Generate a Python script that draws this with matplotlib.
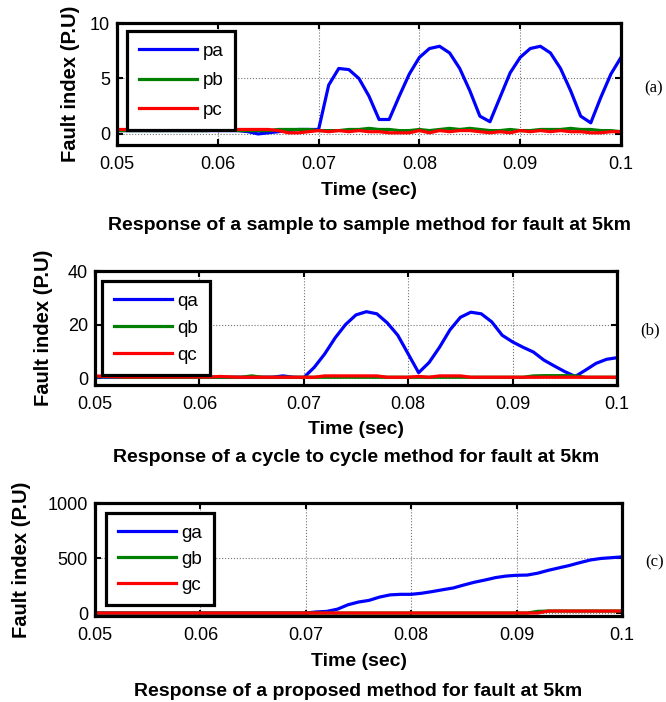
import numpy as np
import matplotlib
matplotlib.use('Agg')
import matplotlib.pyplot as plt

plt.rcParams['font.family'] = ['Liberation Sans', 'DejaVu Sans']

# time base, one sample per ms
t = np.linspace(0.05, 0.1, 51)

pa = [0.3, 0.3, 0.3, 0.3, 0.3, 0.3, 0.3, 0.3, 0.3, 0.3, 0.3, 0.3, 0.3, 0.2, 0.0, 0.1, 0.2, 0.3, 0.4, 0.4,
      0.4, 4.4, 5.9, 5.8, 5.0, 3.4, 1.3, 1.3, 3.4, 5.4, 6.9, 7.7, 7.9, 7.3, 5.9, 3.9, 1.6, 1.1, 3.3, 5.5,
      6.9, 7.7, 7.9, 7.3, 5.9, 3.9, 1.6, 1.0, 3.3, 5.4, 6.9]
pb = [0.3, 0.3, 0.3, 0.3, 0.3, 0.3, 0.3, 0.3, 0.3, 0.3, 0.4, 0.4, 0.3, 0.3, 0.3, 0.3, 0.4, 0.4, 0.4, 0.4,
      0.3, 0.3, 0.3, 0.4, 0.4, 0.5, 0.4, 0.4, 0.3, 0.3, 0.4, 0.3, 0.4, 0.5, 0.4, 0.5, 0.4, 0.3, 0.3, 0.4,
      0.3, 0.3, 0.4, 0.4, 0.4, 0.5, 0.4, 0.4, 0.3, 0.3, 0.2]
pc = [0.4, 0.4, 0.4, 0.4, 0.4, 0.4, 0.4, 0.4, 0.4, 0.4, 0.4, 0.4, 0.4, 0.4, 0.4, 0.4, 0.3, 0.1, 0.1, 0.2,
      0.3, 0.2, 0.3, 0.2, 0.3, 0.2, 0.2, 0.1, 0.1, 0.1, 0.3, 0.1, 0.3, 0.2, 0.3, 0.3, 0.2, 0.1, 0.2, 0.1,
      0.3, 0.2, 0.3, 0.2, 0.3, 0.2, 0.2, 0.1, 0.1, 0.2, 0.2]

qa = [0.3, 0.3, 0.3, 0.3, 0.3, 0.3, 0.3, 0.3, 0.3, 0.3, 0.3, 0.3, 0.3, 0.3, 0.3, 0.3, 0.3, 0.3, 0.8, 0.3,
      0.2, 4.0, 9.0, 15.0, 20.0, 23.6, 24.8, 24.0, 20.6, 16.0, 9.0, 2.0, 5.8, 11.5, 18.0, 22.7, 24.6, 24.0,
      21.0, 16.0, 13.5, 11.5, 9.7, 6.7, 4.5, 2.4, 0.6, 3.0, 5.5, 7.0, 7.6]
qb = [0.5, 0.5, 0.4, 0.3, 0.3, 0.3, 0.3, 0.3, 0.3, 0.3, 0.3, 0.3, 0.3, 0.3, 0.3, 0.8, 0.3, 0.3, 0.3, 0.3,
      0.3, 0.3, 0.3, 0.3, 0.3, 0.3, 0.3, 0.3, 0.3, 0.3, 0.3, 0.3, 0.3, 0.3, 0.3, 0.3, 0.3, 0.3, 0.3, 0.3,
      0.3, 0.3, 0.8, 0.9, 0.9, 0.9, 0.8, 0.3, 0.3, 0.3, 0.3]
qc = [0.8, 0.6, 0.5, 0.4, 0.4, 0.4, 0.4, 0.4, 0.4, 0.4, 0.4, 0.4, 0.6, 0.4, 0.3, 0.3, 0.3, 0.3, 0.3, 0.3,
      0.3, 0.3, 0.8, 0.8, 0.8, 0.8, 0.8, 0.8, 0.3, 0.3, 0.3, 0.6, 0.3, 0.8, 0.8, 0.8, 0.3, 0.3, 0.3, 0.3,
      0.3, 0.3, 0.3, 0.3, 0.3, 0.3, 0.3, 0.3, 0.3, 0.3, 0.3]

ga = [0, 0, 0, 0, 0, 0, 0, 0, 0, 0, 0, 0, 0, 0, 0, 0, 0, 0, 0, 0,
      0, 10, 15, 35, 75, 100, 115, 145, 165, 170, 170, 180, 195, 212, 228, 255, 280, 300, 322, 336,
      343, 345, 362, 388, 410, 432, 458, 482, 496, 503, 510]
gb = [0, 0, 0, 0, 0, 0, 0, 0, 0, 0, 0, 0, 0, 0, 0, 0, 0, 0, 0, 0,
      0, 0, 0, 0, 0, 0, 0, 0, 0, 0, 0, 0, 0, 0, 0, 0, 0, 0, 0, 0,
      0, 0, 15, 18, 18, 18, 18, 18, 18, 18, 18]
gc = [0, 0, 0, 0, 0, 0, 0, 0, 0, 0, 0, 0, 0, 0, 0, 0, 0, 0, 0, 0,
      0, 0, 0, 0, 0, 0, 0, 0, 0, 0, 0, 0, 0, 0, 0, 0, 0, 0, 0, 0,
      0, 0, 0, 18, 18, 18, 18, 18, 18, 18, 18]

xticks  = [0.05, 0.06, 0.07, 0.08, 0.09, 0.1]
xlabels = ['0.05', '0.06', '0.07', '0.08', '0.09', '0.1']

W, H = 666, 702
fig = plt.figure(figsize=(W / 100, H / 100), dpi=100)

def px(l, t_, r, b):
  return [l / W, 1 - b / H, (r - l) / W, (b - t_) / H]

panels = [
  # series, names, ylim, yticks, axes box, legend corner, legend spacing,
  # ylabel x, tag, tag pos, xlabel y, title y, title
  ((pa, pb, pc), ('pa', 'pb', 'pc'), (-1, 10), [0, 5, 10], (117, 23, 621, 145), (127, 31), 0.66,
   70, '(a)', (654, 88), 190, 225, 'Response of a sample to sample method for fault at 5km'),
  ((qa, qb, qc), ('qa', 'qb', 'qc'), (-2.6, 40), [0, 20, 40], (95, 271, 617, 385), (102, 281), 0.52,
   44, '(b)', (650, 330), 430, 457, 'Response of a cycle to cycle method for fault at 5km'),
  ((ga, gb, gc), ('ga', 'gb', 'gc'), (-27, 1000), [0, 500, 1000], (95, 503, 622, 616), (106, 513), 0.47,
   22, '(c)', (655, 562), 662, 692, 'Response of a proposed method for fault at 5km'),
]
colors = ('#0000ff', '#008000', '#ff0000')

for (series, names, ylim, yticks, box, lcorner, lsp, ylx, tag, tagpos, xly, tly, title) in panels:
  ax = fig.add_axes(px(*box))
  for (ys, name, c) in zip(series, names, colors):
    ax.plot(t, ys, color=c, lw=2.3, label=name)
  ax.set_xlim(0.05, 0.1)
  ax.set_ylim(*ylim)
  ax.set_xticks(xticks)
  ax.set_xticklabels(xlabels)
  ax.set_yticks(yticks)
  ax.grid(True, color='0.45', linestyle=':', linewidth=0.8)
  ax.tick_params(direction='in', length=4, width=1.5, top=True, right=True,
                 labelsize=13, pad=5)
  ax.tick_params(axis='x', pad=8)
  for s in ax.spines.values():
    s.set_linewidth(2.3)

  yc = (box[1] + box[3]) / 2
  xc = (box[0] + box[2]) / 2
  ax.set_ylabel('Fault index (P.U)', fontsize=14.5, fontweight='bold', va='center')
  ax.yaxis.set_label_coords(ylx / W, 1 - yc / H, transform=fig.transFigure)
  ax.set_xlabel('Time (sec)', fontsize=14, fontweight='bold', va='center')
  ax.xaxis.set_label_coords(xc / W, 1 - xly / H, transform=fig.transFigure)

  leg = ax.legend(loc='upper left', bbox_to_anchor=(lcorner[0] / W, 1 - lcorner[1] / H),
                  bbox_transform=fig.transFigure, borderaxespad=0, fancybox=False,
                  fontsize=13.5, handlelength=3.1, handletextpad=0.3, labelspacing=lsp,
                  borderpad=0.62, framealpha=1, edgecolor='black')
  leg.get_frame().set_linewidth(2.3)

  fig.text(xc / W, 1 - tly / H, title, ha='center', va='center', fontsize=14, fontweight='bold')
  fig.text(tagpos[0] / W, 1 - tagpos[1] / H, tag, ha='center', va='center', fontsize=12,
           family='Liberation Serif')

plt.savefig('out.png', dpi=100)
